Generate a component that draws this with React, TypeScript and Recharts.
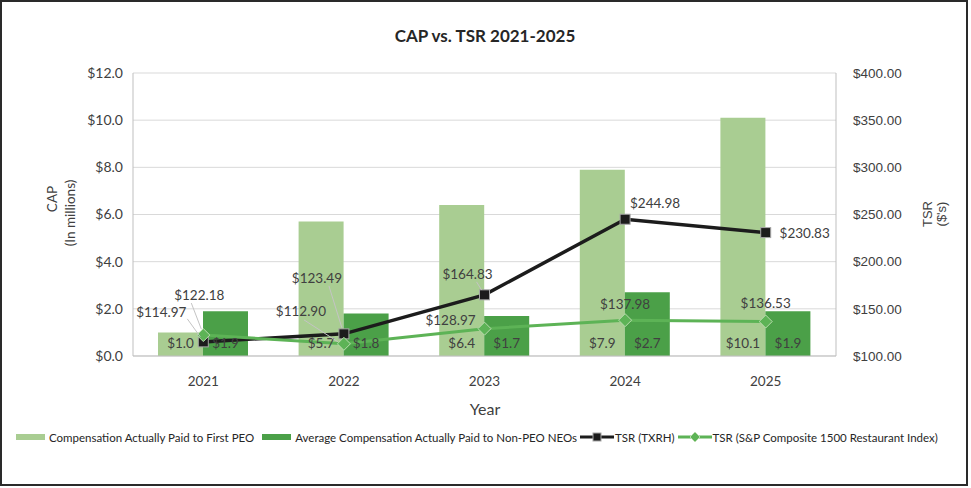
import React from 'react';
import { ComposedChart, Bar, Line, XAxis, YAxis, CartesianGrid, LabelList } from 'recharts';

const years = ['2021', '2022', '2023', '2024', '2025'];
const capFirstPEO = [1.0, 5.7, 6.4, 7.9, 10.1];
const capNonPEO = [1.9, 1.8, 1.7, 2.7, 1.9];
const tsrTXRH = [114.97, 123.49, 164.83, 244.98, 230.83];
const tsrSP = [122.18, 112.9, 128.97, 137.98, 136.53];
const capTicks = [0, 2, 4, 6, 8, 10, 12];
const tsrTicks = [100, 150, 200, 250, 300, 350, 400];

const data = years.map((year, i) => ({
  year,
  firstPEO: capFirstPEO[i],
  nonPEO: capNonPEO[i],
  txrh: tsrTXRH[i],
  sp: tsrSP[i],
}));

const LIGHT = '#A9CD92';
const DARK = '#4BA048';
const LINEGREEN = '#5DB356';
const BLACK = '#1c1c1c';
const TXT = '#404040';
const FONT = 'Lato, "Open Sans", sans-serif';
const ARIAL = '"Liberation Sans", Arial, sans-serif';

// label placement relative to each point (style only)
const txrhLabelOffsets = [[-42, -30], [-27, -56], [-17, -21], [30, -16], [39, 0]];
const txrhLeaders = [[-16, -23, -3, -5], [-15, -48, -2, -6], [-8, -13, -3, -5], null, null];
const spLabelOffsets = [[-4, -40], [-43, -33], [-34, -9], [0, -16], [0, -19]];
const spLeaders = [[-12, -32, -2, -6], [-40, -24, -6, -2], null, null, null];

const makeLineLabel = (offsets: number[][], leaders: (number[] | null)[]) => (props: any) => {
  const { x, y, value, index } = props;
  if (x == null || y == null) return null;
  const [dx, dy] = offsets[index] || [0, -14];
  const ld = leaders[index];
  return (
    <g key={`lbl-${index}`}>
      {ld && (
        <line x1={x + ld[0]} y1={y + ld[1]} x2={x + ld[2]} y2={y + ld[3]} stroke="#c4c4c4" strokeWidth={1} />
      )}
      <text
        x={x + dx}
        y={y + dy}
        textAnchor="middle"
        dominantBaseline="central"
        fill={TXT}
        fontSize={13.5}
        fontFamily={FONT}
      >
        {`$${Number(value).toFixed(2)}`}
      </text>
    </g>
  );
};

const SquareDot = (props: any) => {
  const { cx, cy, index } = props;
  if (cx == null || cy == null) return null;
  return (
    <rect key={`sq-${index}`} x={cx - 5} y={cy - 5} width={10} height={10} fill={BLACK} stroke="#a6a6a6" strokeWidth={1} />
  );
};

const DiamondDot = (props: any) => {
  const { cx, cy, index } = props;
  if (cx == null || cy == null) return null;
  const r = 6.5;
  return (
    <polygon
      key={`dm-${index}`}
      points={`${cx},${cy - r} ${cx + r},${cy} ${cx},${cy + r} ${cx - r},${cy}`}
      fill={LINEGREEN}
      stroke="#b9dcae"
      strokeWidth={1}
    />
  );
};

const legendItems = [
  { label: 'Compensation Actually Paid to First PEO', type: 'bar', color: LIGHT },
  { label: 'Average Compensation Actually Paid to Non-PEO NEOs', type: 'bar', color: DARK },
  { label: 'TSR (TXRH)', type: 'square', color: BLACK },
  { label: 'TSR (S&P Composite 1500 Restaurant Index)', type: 'diamond', color: LINEGREEN },
];

const LegendIcon = ({ type, color }: { type: string; color: string }) => {
  if (type === 'bar') {
    return (
      <svg width={29} height={10} style={{ display: 'block' }}>
        <rect x={0} y={2} width={29} height={6} fill={color} />
      </svg>
    );
  }
  return (
    <svg width={34} height={12} style={{ display: 'block' }}>
      <line x1={0} y1={6} x2={34} y2={6} stroke={color} strokeWidth={3} />
      {type === 'square' ? (
        <rect x={13} y={2} width={8} height={8} fill={color} stroke="#a6a6a6" strokeWidth={1} />
      ) : (
        <polygon points="17,1 22,6 17,11 12,6" fill={color} stroke="#b9dcae" strokeWidth={1} />
      )}
    </svg>
  );
};

export default function App() {
  return (
    <div style={{ position: 'absolute', left: 0, top: 0, width: 971, height: 488, background: '#fff', overflow: 'hidden' }}>
      <div
        style={{
          position: 'absolute',
          left: 0,
          top: 0,
          width: 968,
          height: 486,
          boxSizing: 'border-box',
          border: '2px solid #2a2a2a',
        }}
      />
      <div style={{ position: 'absolute', left: 0, top: 0 }}>
        <ComposedChart
          width={971}
          height={488}
          data={data}
          margin={{ top: 73, right: 55, left: 73, bottom: 102 }}
          barGap={0}
        >
          <CartesianGrid yAxisId="left" vertical={false} stroke="#d9d9d9" strokeWidth={1} />
          <XAxis
            dataKey="year"
            tickLine={false}
            axisLine={{ stroke: '#bfbfbf' }}
            tickMargin={14}
            height={30}
            tick={{ fill: TXT, fontSize: 13.5, fontFamily: FONT }}
          />
          <YAxis
            yAxisId="left"
            orientation="left"
            domain={[0, 12]}
            ticks={capTicks}
            width={60}
            tickLine={false}
            axisLine={{ stroke: '#bfbfbf' }}
            tickMargin={4}
            tickFormatter={(v: number) => `$${v.toFixed(1)}`}
            tick={{ fill: TXT, fontSize: 14, fontFamily: FONT }}
            interval={0}
          />
          <YAxis
            yAxisId="right"
            orientation="right"
            domain={[100, 400]}
            ticks={tsrTicks}
            width={80}
            tickLine={false}
            axisLine={{ stroke: '#bfbfbf' }}
            tickMargin={11}
            tickFormatter={(v: number) => `$${v.toFixed(2)}`}
            tick={{ fill: TXT, fontSize: 13.5, fontFamily: ARIAL, textAnchor: 'start' }}
            interval={0}
          />
          <Bar yAxisId="left" dataKey="firstPEO" fill={LIGHT} barSize={45} isAnimationActive={false}>
            <LabelList
              dataKey="firstPEO"
              position="insideBottom"
              offset={8}
              formatter={(v: any) => `$${Number(v).toFixed(1)}`}
              fill={TXT}
              fontSize={13.5}
              fontFamily={FONT}
            />
          </Bar>
          <Bar yAxisId="left" dataKey="nonPEO" fill={DARK} barSize={45} isAnimationActive={false}>
            <LabelList
              dataKey="nonPEO"
              position="insideBottom"
              offset={8}
              formatter={(v: any) => `$${Number(v).toFixed(1)}`}
              fill={TXT}
              fontSize={13.5}
              fontFamily={FONT}
            />
          </Bar>
          <Line
            yAxisId="right"
            type="linear"
            dataKey="txrh"
            stroke={BLACK}
            strokeWidth={3.5}
            dot={SquareDot}
            activeDot={false}
            isAnimationActive={false}
          >
            <LabelList dataKey="txrh" content={makeLineLabel(txrhLabelOffsets, txrhLeaders)} />
          </Line>
          <Line
            yAxisId="right"
            type="linear"
            dataKey="sp"
            stroke={LINEGREEN}
            strokeWidth={3}
            dot={DiamondDot}
            activeDot={false}
            isAnimationActive={false}
          >
            <LabelList dataKey="sp" content={makeLineLabel(spLabelOffsets, spLeaders)} />
          </Line>
        </ComposedChart>
      </div>
      <svg width={971} height={488} style={{ position: 'absolute', left: 0, top: 0, pointerEvents: 'none' }}>
        <text x={485} y={35} textAnchor="middle" dominantBaseline="central" fontFamily={FONT} fontWeight={700} fontSize={17} fill="#262626">
          CAP vs. TSR 2021-2025
        </text>
        <text x={485} y={408} textAnchor="middle" dominantBaseline="central" fontFamily={FONT} fontSize={16} fill={TXT}>
          Year
        </text>
        <text transform="translate(52,199) rotate(-90)" textAnchor="middle" dominantBaseline="central" fontFamily={FONT} fontSize={13.5} fill={TXT}>
          CAP
        </text>
        <text transform="translate(70,213) rotate(-90)" textAnchor="middle" dominantBaseline="central" fontFamily={FONT} fontSize={13.5} fill={TXT}>
          (In millions)
        </text>
        <text transform="translate(927,214) rotate(-90)" textAnchor="middle" dominantBaseline="central" fontFamily={ARIAL} fontSize={13} fill={TXT}>
          TSR
        </text>
        <text transform="translate(941,214) rotate(-90)" textAnchor="middle" dominantBaseline="central" fontFamily={ARIAL} fontSize={13} fill={TXT}>
          ($'s)
        </text>
      </svg>
      <div
        style={{
          position: 'absolute',
          left: 16,
          top: 428,
          height: 18,
          display: 'flex',
          alignItems: 'center',
          fontFamily: FONT,
          fontSize: 11.5,
          color: '#262626',
          whiteSpace: 'nowrap',
        }}
      >
        {legendItems.map((it, i) => (
          <div
            key={it.label}
            style={{ display: 'flex', alignItems: 'center', marginLeft: i === 0 ? 0 : it.type === 'bar' ? 8 : 3 }}
          >
            <LegendIcon type={it.type} color={it.color} />
            <span style={{ marginLeft: it.type === 'bar' ? 4 : 1 }}>{it.label}</span>
          </div>
        ))}
      </div>
    </div>
  );
}
